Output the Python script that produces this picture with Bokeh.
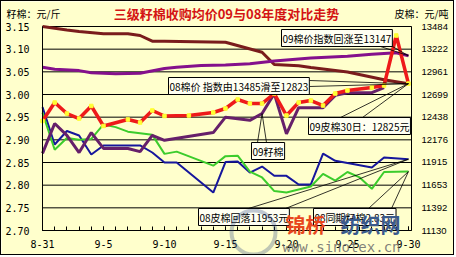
from bokeh.plotting import figure
from bokeh.models import (Range1d, LinearAxis, FixedTicker, SingleIntervalTicker, Label,
                          BoxAnnotation, NumeralTickFormatter)
from bokeh.embed import file_html
from bokeh.resources import INLINE

# ---------------- data ----------------
x_label_days = [0, 5, 10, 15, 20, 25, 30]
x_labels = ["8-31", "9-5", "9-10", "9-15", "9-20", "9-25", "9-30"]
left_ticks = [2.70, 2.75, 2.80, 2.85, 2.90, 2.95, 3.00, 3.05, 3.10, 3.15]
right_ticks = [11130, 11392, 11653, 11915, 12176, 12438, 12699, 12961, 13222, 13484]

# 08 cotton price index (right axis, yuan/ton)
brown_days = [0, 2, 3, 5, 7, 8, 9, 10, 15, 18, 19, 21, 22, 25, 28, 30]
brown_vals = [13485, 13444, 13426, 13400, 13400, 13380, 13314, 13314, 13303, 13187, 13045,
              13030, 13010, 12960, 12870, 12823]

# 09 cotton price index (right axis)
purple_days = [0, 1, 3, 4, 6, 8, 10, 11, 13, 15, 17, 19, 22, 25, 27, 29, 30]
purple_vals = [13014, 12990, 12975, 12950, 12938, 12945, 13000, 13014, 13034, 13040, 13055,
               13085, 13120, 13140, 13165, 13180, 13147]

# 09 lint cotton (right axis)
red_days = [0, 1, 2, 3, 4, 5, 7, 8, 9, 10, 12, 14, 15, 16, 17, 18, 19, 20, 21, 22, 23, 24,
            25, 27, 28, 29, 30]
red_vals = [12394, 12607, 12480, 12422, 12567, 12336, 12411, 12376, 12515, 12451, 12457,
            12492, 12538, 12642, 12595, 12595, 12711, 12457, 12607, 12630, 12572, 12711,
            12745, 12780, 12803, 13380, 12825]

# 09 seed cotton (left axis, yuan/jin)
dp_days = [0, 1, 2, 3, 4, 5, 7, 8, 9, 10, 14, 15, 17, 18, 19, 20, 21, 23, 24, 25, 27, 28]
dp_vals = [2.870, 2.936, 2.910, 2.872, 2.916, 2.881, 2.881, 2.874, 2.910, 2.899, 2.916,
           2.950, 2.943, 2.958, 3.002, 2.913, 2.971, 2.971, 2.998, 3.004, 3.004, 3.015]

# 08 lint cotton (right axis)
blue_days = [0, 1, 2, 3, 4, 5, 8, 9, 10, 11, 14, 15, 16, 17, 18, 19, 20, 21, 22, 23, 24,
             27, 28, 30]
blue_vals = [12553, 12122, 12278, 12226, 12007, 12111, 12111, 12030, 11915, 11915, 11568,
             11920, 11926, 11799, 11868, 11761, 11761, 11661, 11661, 12018, 11934, 11857,
             11972, 11953]

# 08 seed cotton, same period (left axis)
green_days = [0, 1, 2, 3, 4, 5, 6, 7, 9, 10, 11, 14, 15, 16, 17, 18, 19, 20, 22, 23, 24,
              25, 26, 27, 28, 30]
green_vals = [2.960, 2.878, 2.904, 2.900, 2.902, 2.934, 2.928, 2.918, 2.911, 2.869, 2.874,
              2.843, 2.864, 2.865, 2.830, 2.817, 2.787, 2.784, 2.797, 2.825, 2.810, 2.829,
              2.817, 2.792, 2.829, 2.830]

title_text = "三级籽棉收购均价09与08年度对比走势"
left_unit = "籽棉：元/斤"
right_unit = "皮棉：元/吨"

# ---------------- layout ----------------
W, H = 454, 255                      # canvas (plus 1px css border)
PL, PR, PT, PB = 41, 410, 25, 229    # plot area in canvas pixels
X0, X1 = 0.0, 30.25                  # day span of plot area
LEFT_LO, LEFT_HI = 2.70, 3.15
RIGHT_LO, RIGHT_HI = 11130, 13484


def cx(px):
    return X0 + (px - PL) / (PR - PL) * (X1 - X0)


def cy(py):
    return LEFT_HI - (py - PT) / (PB - PT) * (LEFT_HI - LEFT_LO)


def cr(py):
    return RIGHT_HI - (py - PT) / (PB - PT) * (RIGHT_HI - RIGHT_LO)


def to_left(r):
    return LEFT_LO + (r - RIGHT_LO) / (RIGHT_HI - RIGHT_LO) * (LEFT_HI - LEFT_LO)


BG = "#FFFFCC"
CJK = "Noto Sans CJK SC"

p = figure(width=W, height=H, x_range=Range1d(cx(0), cx(W)), y_range=Range1d(cy(H), cy(0)),
           output_backend="svg", toolbar_location=None, x_axis_location=None,
           y_axis_location=None,
           min_border_left=0, min_border_right=0, min_border_top=0, min_border_bottom=0,
           background_fill_color=BG, border_fill_color=BG,
           styles={"border": "1px solid black"})
p.extra_y_ranges = {"right": Range1d(cr(H), cr(0))}
p.outline_line_color = None
p.xgrid.visible = False
p.ygrid.visible = False

# gridlines across the plot area only, at the left-axis ticks
p.segment(x0=[X0] * len(left_ticks), x1=[X1] * len(left_ticks), y0=left_ticks, y1=left_ticks,
          line_color="black", line_width=1)

# x axis
xa = LinearAxis(fixed_location=LEFT_LO, bounds=(X0, X1),
                ticker=SingleIntervalTicker(interval=5, num_minor_ticks=5))
xa.major_label_overrides = {d: t for d, t in zip(x_label_days, x_labels)}
xa.major_tick_in = 4
xa.major_tick_out = 0
xa.minor_tick_in = 4
xa.minor_tick_out = 0
xa.major_label_standoff = 9
xa.major_label_text_font = "DejaVu Sans Mono"
xa.major_label_text_font_size = "10px"
xa.major_label_text_color = "black"
xa.axis_line_color = "black"
p.add_layout(xa, "below")

# left axis
ya = LinearAxis(fixed_location=X0, bounds=(LEFT_LO, LEFT_HI), ticker=FixedTicker(ticks=left_ticks),
                formatter=NumeralTickFormatter(format="0.00"))
ya.major_tick_in = 0
ya.major_tick_out = 0
ya.minor_tick_in = 0
ya.minor_tick_out = 0
ya.major_label_standoff = 13
ya.major_label_text_font = "DejaVu Sans Mono"
ya.major_label_text_font_size = "10px"
ya.major_label_text_color = "black"
ya.axis_line_color = "black"
p.add_layout(ya, "left")

# right axis
ra = LinearAxis(y_range_name="right", fixed_location=X1, bounds=(RIGHT_LO, RIGHT_HI),
                ticker=FixedTicker(ticks=right_ticks))
ra.major_tick_in = 0
ra.major_tick_out = 0
ra.minor_tick_in = 0
ra.minor_tick_out = 0
ra.major_label_standoff = 10
ra.major_label_text_font = "Liberation Sans"
ra.major_label_text_font_size = "9.5px"
ra.major_label_text_color = "black"
ra.axis_line_color = "black"
p.add_layout(ra, "right")

# plot-area frame
p.add_layout(BoxAnnotation(left=X0, right=X1, bottom=LEFT_LO, top=LEFT_HI, fill_alpha=0,
                           line_color="black", line_width=1, level="underlay"))

# series
p.line(blue_days, blue_vals, y_range_name="right", line_color="#16169c", line_width=2)
p.line(green_days, green_vals, line_color="#3ccc2c", line_width=2)
p.line(dp_days, dp_vals, line_color="#66206a", line_width=3)
p.line(brown_days, brown_vals, y_range_name="right", line_color="#7a1c1c", line_width=3)
p.line(purple_days, purple_vals, y_range_name="right", line_color="#84108c", line_width=3)
p.line(red_days, red_vals, y_range_name="right", line_color="#ee1a1a", line_width=3.5)
p.scatter(red_days, red_vals, y_range_name="right", marker="square", size=3.5,
          fill_color="#ffff33", line_color="#ffff33")

# callouts: text, box left/top (canvas px), leader start points (canvas px), target (data)
callouts = [
    ("09棉价指数回涨至13147", 280, 28, [(367, 41), (384, 41)],
     (purple_days[-1], to_left(purple_vals[-1]))),
    ("08棉价 指数由13485滑至12823", 167, 76, [(308, 79), (308, 85)],
     (brown_days[-1], to_left(brown_vals[-1]))),
    ("09皮棉30日：12825元", 307, 116, [(339, 116), (361, 116)],
     (red_days[-1], to_left(red_vals[-1]))),
    ("09籽棉", 250, 141, [(256, 141), (265, 141)],
     (dp_days[13], dp_vals[13])),
    ("08皮棉回落11953元", 197, 207, [(247, 207), (284, 207)],
     (blue_days[-1], to_left(blue_vals[-1]))),
    ("08同期籽棉2.83元", 312, 207, [(367, 207), (390, 207)],
     (green_days[-1], green_vals[-1])),
]

for text, bx, by, starts, (tx, ty) in callouts:
    p.segment(x0=[cx(s[0]) for s in starts], y0=[cy(s[1]) for s in starts],
              x1=[tx] * len(starts), y1=[ty] * len(starts), line_color="black", line_width=0.8)

for text, bx, by, starts, (tx, ty) in callouts:
    p.add_layout(Label(x=cx(bx), y=cy(by), text=text, text_font=CJK, text_font_size="10px",
                       text_color="black", text_align="left", text_baseline="top",
                       background_fill_color="#FFFFF2", border_line_color="black",
                       border_line_width=1, padding=1))

# titles
p.add_layout(Label(x=cx(225), y=cy(12), text=title_text, text_font=CJK, text_font_size="13px",
                   text_font_style="bold", text_color="#d41414", text_align="center",
                   text_baseline="middle"))
p.add_layout(Label(x=cx(5), y=cy(12), text=left_unit, text_font=CJK, text_font_size="10px",
                   text_color="black", text_align="left", text_baseline="middle"))
p.add_layout(Label(x=cx(393), y=cy(12), text=right_unit, text_font=CJK, text_font_size="10px",
                   text_color="black", text_align="left", text_baseline="middle"))

# watermark
p.add_layout(BoxAnnotation(left=cx(230), right=cx(274), top=cy(209), bottom=cy(253),
                           fill_alpha=0, line_color="#2b4580", line_width=4, border_radius=22))
p.add_layout(Label(x=cx(284), y=cy(223), text="锦桥", text_font=CJK, text_font_size="20px",
                   text_font_style="bold", text_color="#e8461c", text_align="left",
                   text_baseline="middle"))
p.add_layout(Label(x=cx(330), y=cy(218), text="®", text_font="DejaVu Sans",
                   text_font_size="8px", text_color="#808080", text_align="left",
                   text_baseline="middle"))
p.add_layout(Label(x=cx(339), y=cy(223), text="纺织网", text_font=CJK, text_font_size="20px",
                   text_font_style="bold", text_color="#3a5a8c", text_align="left",
                   text_baseline="middle"))
p.add_layout(Label(x=cx(281), y=cy(245), text="www.sinotex.cn", text_font="DejaVu Sans Mono",
                   text_font_size="14px", text_color="#6a6a6a", text_alpha=0.85,
                   text_align="left", text_baseline="middle"))

open("out.html", "w").write(file_html(p, INLINE))
